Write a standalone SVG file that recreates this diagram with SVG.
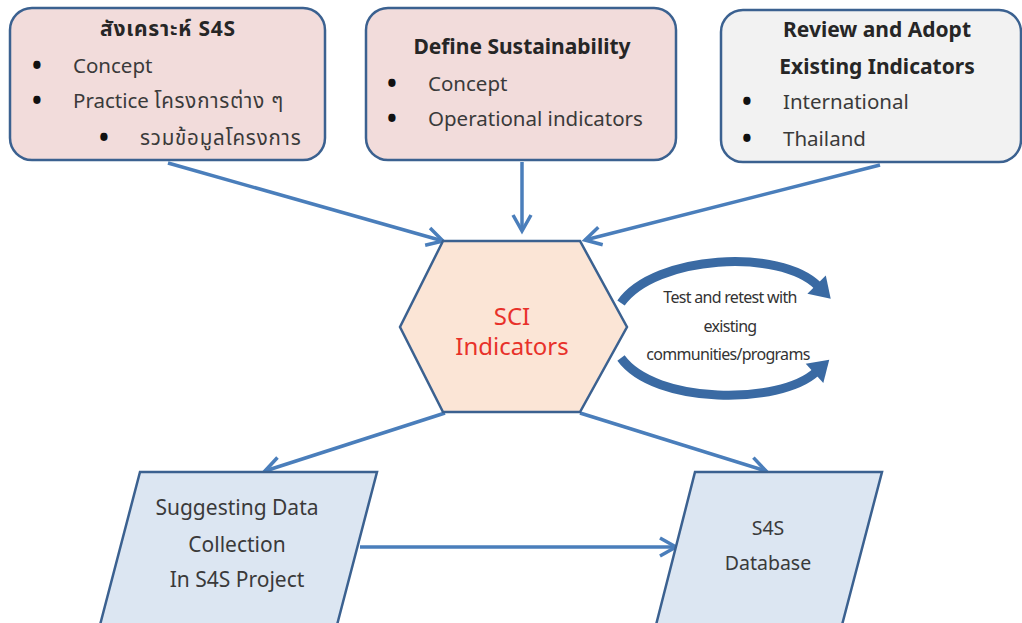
<svg xmlns="http://www.w3.org/2000/svg" width="1022" height="623" viewBox="0 0 1022 623">
<defs>
<style>
text{font-family:"Noto Sans","Noto Sans Thai","DejaVu Sans",sans-serif;fill:#3a3a3a;font-size:20.5px}
.t{font-weight:bold;fill:#262626;text-anchor:middle;font-size:21px}
.c{text-anchor:middle;font-size:21px}
.b{font-size:26px;font-weight:bold;fill:#111}
.th{letter-spacing:0.8px}
.box{stroke:#3b6190;stroke-width:2.5}
.pk{fill:#f2dcdb}
.gy{fill:#f2f2f2}
.bl{fill:#dce6f2}
.con{stroke:#4a7ebb;stroke-width:3.5;fill:none;marker-end:url(#ah)}
.cyc{stroke:#3a6aa3;stroke-width:9;fill:none;marker-end:url(#bh)}
.sm{font-size:16px;letter-spacing:-0.7px;fill:#333;text-anchor:middle}
.red{fill:#e8312a;font-size:24px;text-anchor:middle}
</style>
<marker id="ah" markerUnits="userSpaceOnUse" markerWidth="24" markerHeight="24" refX="18" refY="10" orient="auto" overflow="visible">
<path d="M2,1 L18,10 L2,19" fill="none" stroke="#4a7ebb" stroke-width="3.5" stroke-linejoin="miter"/>
</marker>
<marker id="bh" markerUnits="userSpaceOnUse" markerWidth="30" markerHeight="30" refX="2" refY="13" orient="auto" overflow="visible">
<path d="M0,0 L20,13 L0,26 Z" fill="#3a6aa3"/>
</marker>
</defs>

<g id="connectors">
<line class="con" x1="168" y1="163" x2="443" y2="241"/>
<line class="con" x1="522" y1="162" x2="522" y2="231"/>
<line class="con" x1="880" y1="165" x2="585" y2="240"/>
<line class="con" x1="445" y1="413" x2="265" y2="471"/>
<line class="con" x1="580" y1="413" x2="766" y2="471"/>
<line class="con" x1="360" y1="547" x2="676" y2="547"/>
<path class="cyc" d="M621,303 C655,255 780,248 818,286"/>
<path class="cyc" d="M621,358 C655,405 780,405 816,372"/>
</g>

<g id="node-synthesis">
<rect class="box pk" x="10" y="8" width="315" height="152" rx="22"/>
<text class="t th" x="168" y="36">สังเคราะห์ S4S</text>
<text class="b" x="32" y="75">•</text><text x="73" y="73">Concept</text>
<text class="b" x="32" y="110">•</text><text x="73" y="108">Practice <tspan class="th">โครงการต่าง ๆ</tspan></text>
<text class="b" x="99" y="147">•</text><text class="th" x="140" y="145">รวมข้อมูลโครงการ</text>
</g>

<g id="node-define">
<rect class="box pk" x="366" y="8" width="310" height="152" rx="22"/>
<text class="t" x="522" y="54">Define Sustainability</text>
<text class="b" x="387" y="93">•</text><text x="428" y="91">Concept</text>
<text class="b" x="387" y="128">•</text><text x="428" y="126">Operational indicators</text>
</g>

<g id="node-review">
<rect class="box gy" x="721" y="10" width="300" height="152" rx="22"/>
<text class="t" x="877" y="37">Review and Adopt</text>
<text class="t" x="877" y="74">Existing Indicators</text>
<text class="b" x="742" y="111">•</text><text x="783" y="109">International</text>
<text class="b" x="742" y="148">•</text><text x="783" y="146">Thailand</text>
</g>

<g id="node-sci">
<polygon class="box" fill="#fbe5d6" points="443,241 580,241 627,327 580,412 443,412 400,327"/>
<text class="red" x="512" y="325">SCI</text>
<text class="red" x="512" y="355">Indicators</text>
</g>

<g id="node-test">
<text class="sm" x="730" y="303">Test and retest with</text>
<text class="sm" x="730" y="332">existing</text>
<text class="sm" x="728" y="360">communities/programs</text>
</g>

<g id="node-suggest">
<polygon class="box bl" points="140,472 377,472 337,625 100,625"/>
<text class="c" x="237" y="515">Suggesting Data</text>
<text class="c" x="237" y="552">Collection</text>
<text class="c" x="237" y="587">In S4S Project</text>
</g>

<g id="node-db">
<polygon class="box bl" points="695,472 882,472 842,625 656,625"/>
<text class="c" x="768" y="535" style="font-size:19.5px">S4S</text>
<text class="c" x="768" y="570" style="font-size:19.5px">Database</text>
</g>
</svg>
